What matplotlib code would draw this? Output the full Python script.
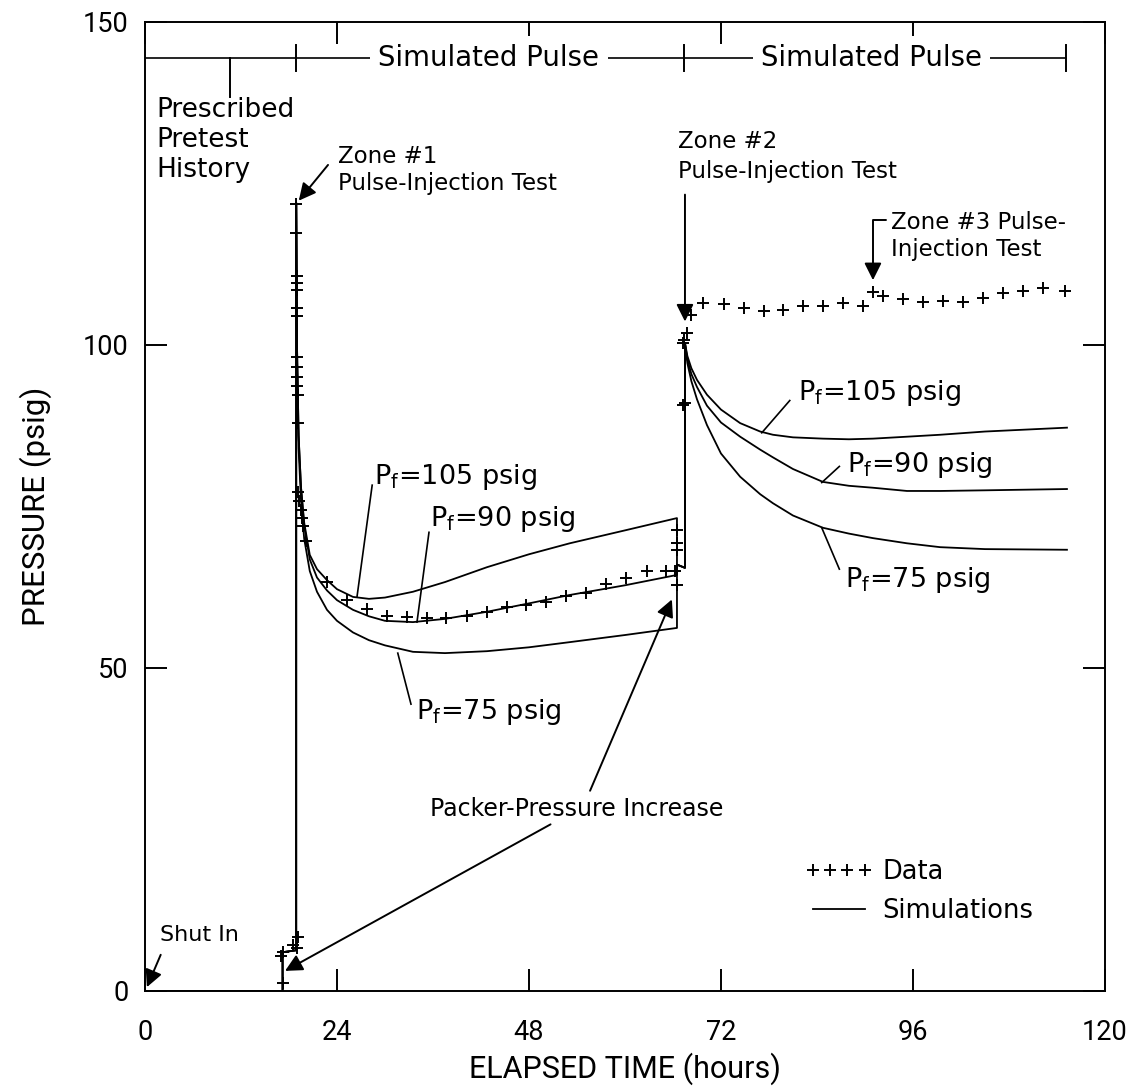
import numpy as np
import matplotlib.pyplot as plt

# ---- simulations (three formation pressures) ----
# pretest / packer phase, common to all three
t_pre = [0.0, 17.2, 17.2, 18.9]
p_pre = [0.0, 0.0, 6.0, 6.3]

# first simulated pulse (zone #1 shut-in)
t_pulse1 = [18.9, 19.0, 19.2, 19.5, 19.9, 20.6, 21.5, 22.75, 24.0, 26.0,
            28.0, 30.0, 33.5, 37.5, 42.75, 48.0, 53.1, 60.0, 66.5]
p1_105 = [122, 100, 86, 78, 72.5, 67.5, 65.3, 63.6, 62.2, 61.0,
          60.7, 60.9, 61.8, 63.3, 65.6, 67.6, 69.3, 71.3, 73.2]
p1_90 = [122, 100, 86, 78, 72.0, 66.8, 64.0, 62.0, 60.5, 59.0,
         58.0, 57.3, 57.1, 57.6, 58.7, 60.0, 61.3, 62.8, 64.4]
p1_75 = [122, 98, 84, 76, 70.0, 65.0, 61.8, 59.0, 57.3, 55.5,
         54.3, 53.5, 52.5, 52.3, 52.6, 53.2, 54.0, 55.1, 56.2]

# packer-pressure step before the second pulse
t_link = [66.5, 67.5]
p_link = [66.0, 65.5]

# second simulated pulse (zone #2)
t_pulse2 = [67.5, 67.8, 68.3, 69.0, 70.25, 72.0, 74.4, 76.9, 78.5, 81.0,
            84.75, 88.0, 91.0, 95.25, 99.4, 105.0, 115.25]
p2_105 = [100.3, 98.3, 96.4, 94.6, 92.3, 90.0, 87.9, 86.6, 86.1, 85.7,
          85.5, 85.4, 85.5, 85.8, 86.1, 86.6, 87.2]
p2_90 = [100.3, 97.8, 95.5, 93.5, 90.6, 88.0, 85.8, 83.8, 82.6, 80.8,
         78.8, 78.2, 77.9, 77.4, 77.4, 77.5, 77.7]
p2_75 = [100.3, 97.2, 94.4, 91.6, 87.6, 83.2, 79.6, 76.9, 75.5, 73.6,
         71.7, 70.8, 70.1, 69.3, 68.7, 68.4, 68.3]

# ---- measured data ----
t_data = [17.25, 17.0, 17.25, 18.5, 19.0, 19.1,
          18.9, 18.9, 18.95, 18.95, 18.95, 18.95, 19.0, 19.0, 19.0, 19.05, 19.05, 19.1, 19.1,
          19.1, 19.3, 19.5, 19.6, 19.8, 20.1,
          22.75, 25.25, 27.75, 30.25, 32.75, 35.25, 37.6, 40.25, 42.75, 45.25,
          47.6, 50.1, 52.6, 55.1, 57.6, 60.1, 62.75, 65.1, 66.25,
          66.5, 66.5, 66.5, 66.5,
          67.25, 67.5, 67.25, 67.4, 67.75,
          68.25, 69.75, 72.4, 74.9, 77.4, 79.75, 82.25, 84.75, 87.25, 89.75,
          91.0, 92.25, 94.75, 97.25, 99.75, 102.25, 104.75, 107.25, 109.75, 112.25, 115.0]
p_data = [1.2, 5.4, 6.0, 7.1, 6.7, 8.4,
          121.8, 117.3, 110.7, 109.6, 108.5, 105.7, 104.5, 98.1, 96.6, 95.0, 93.7, 92.3, 87.9,
          77.2, 75.9, 74.5, 73.2, 72.0, 69.7,
          63.3, 60.5, 59.1, 58.0, 57.9, 57.7, 57.7, 58.0, 58.7, 59.4,
          59.8, 60.2, 61.1, 61.6, 63.0, 63.9, 65.0, 65.0, 65.0,
          62.8, 68.2, 69.3, 71.4,
          90.7, 91.0, 100.3, 100.8, 101.9,
          104.6, 106.5, 106.3, 105.7, 105.3, 105.4, 106.0, 106.0, 106.5, 106.0,
          108.2, 107.6, 107.1, 106.7, 106.8, 106.7, 107.3, 108.0, 108.4, 108.8, 108.4]

# test-phase bar along the top
bar_y = 144.4
pulse_marks = [18.9, 67.4, 115.1]

x_ticks = [0, 24, 48, 72, 96, 120]
y_ticks = [0, 50, 100, 150]

fig = plt.figure(figsize=(11.39, 10.92), dpi=100)
ax = fig.add_axes([0.1273, 0.0925, 0.8428, 0.8874])

ann_font = dict(family='DejaVu Sans')

sims = [(p1_105, p2_105), (p1_90, p2_90), (p1_75, p2_75)]
sim_lines = []
for a, b in sims:
    t = t_pre + t_pulse1 + t_link + t_pulse2
    p = p_pre + a + p_link + b
    ln, = ax.plot(t, p, color='black', lw=1.3, zorder=2)
    sim_lines.append(ln)
sim_lines[0].set_label('Simulations')

pts, = ax.plot(t_data, p_data, linestyle='none', marker='+', color='black',
               markersize=9, mew=1.4, label='Data', zorder=3)

ax.set_xlim(0, 120)
ax.set_ylim(0, 150)
ax.set_xticks(x_ticks)
ax.set_yticks(y_ticks)
ax.tick_params(direction='in', length=16, width=1.4, top=True, right=True)
ax.tick_params(axis='x', pad=20)
ax.tick_params(axis='y', pad=12)
for lab in ax.get_xticklabels() + ax.get_yticklabels():
    lab.set_fontfamily('Roboto')
    lab.set_fontweight('normal')
    lab.set_fontsize(19.5)
for s in ax.spines.values():
    s.set_linewidth(1.4)

ax.set_xlabel('ELAPSED TIME (hours)', fontsize=22, family='Roboto',
              labelpad=5)
ax.set_ylabel('PRESSURE (psig)', fontsize=22.5, family='Roboto',
              labelpad=22)

# top bar
ax.plot([0, pulse_marks[-1]], [bar_y, bar_y], color='black', lw=1.2)
for xm in pulse_marks:
    ax.plot([xm, xm], [bar_y - 2.0, bar_y + 2.0], color='black', lw=1.4)
for xc in [43.0, 90.8]:
    ax.text(xc, bar_y, 'Simulated Pulse', ha='center', va='center',
            fontsize=19.8, bbox=dict(facecolor='white', edgecolor='none', pad=6),
            **ann_font)

ax.plot([10.6, 10.6], [bar_y, 138.4], color='black', lw=1.4)
ax.text(1.4, 138.4, 'Prescribed\nPretest\nHistory', ha='left', va='top',
        fontsize=19, linespacing=1.2, **ann_font)

arrow = dict(arrowstyle='-|>', color='black', lw=1.4, mutation_scale=26)

ax.text(24.1, 131.0, 'Zone #1\nPulse-Injection Test', ha='left', va='top',
        fontsize=16.5, linespacing=1.25, **ann_font)
ax.annotate('', xy=(19.0, 122.0), xytext=(23.1, 128.2), arrowprops=arrow)

ax.text(66.6, 133.2, 'Zone #2\nPulse-Injection Test', ha='left', va='top',
        fontsize=16.5, linespacing=1.35, **ann_font)
ax.annotate('', xy=(67.5, 103.2), xytext=(67.5, 123.7), arrowprops=arrow)

ax.text(93.3, 120.8, 'Zone #3 Pulse-\nInjection Test', ha='left', va='top',
        fontsize=16.5, linespacing=1.25, **ann_font)
ax.annotate('', xy=(91.0, 109.6), xytext=(93.0, 119.3),
            arrowprops=dict(arrow, connectionstyle='angle,angleA=180,angleB=90,rad=0'))

ax.text(1.9, 8.6, 'Shut In', ha='left', va='center', fontsize=16, **ann_font)
ax.annotate('', xy=(0.1, 0.2), xytext=(2.1, 6.0), arrowprops=arrow)

ax.text(35.6, 28.2, 'Packer-Pressure Increase', ha='left', va='center',
        fontsize=17, **ann_font)
ax.annotate('', xy=(17.2, 2.9), xytext=(51.0, 26.0), arrowprops=arrow)
ax.annotate('', xy=(66.0, 61.0), xytext=(55.5, 30.6), arrowprops=arrow)

# formation-pressure labels with leader lines
pf_labels = [
    ('105', (28.6, 79.5), (28.4, 78.3), (26.5, 61.0)),
    ('90', (35.6, 73.0), (35.5, 71.0), (34.0, 57.1)),
    ('75', (33.9, 43.2), (33.25, 44.4), (31.6, 52.3)),
    ('105', (81.6, 92.6), (80.6, 91.4), (77.1, 86.4)),
    ('90', (87.8, 81.4), (86.8, 81.2), (84.6, 78.7)),
    ('75', (87.5, 63.6), (86.8, 65.3), (84.6, 71.7)),
]
for val, txy, a, b in pf_labels:
    ax.text(txy[0], txy[1], r'$\mathregular{P_f}$=' + val + ' psig',
            ha='left', va='center', fontsize=19.5, **ann_font)
    ax.plot([a[0], b[0]], [a[1], b[1]], color='black', lw=1.2)

ax.legend(handles=[pts, sim_lines[0]], loc='upper left', bbox_to_anchor=(0.688, 0.136),
          frameon=False, numpoints=4, handlelength=2.6, handletextpad=0.4,
          labelspacing=0.5, prop=dict(family='DejaVu Sans', size=18.5),
          borderaxespad=0, borderpad=0)

fig.savefig('out.png', dpi=100)
